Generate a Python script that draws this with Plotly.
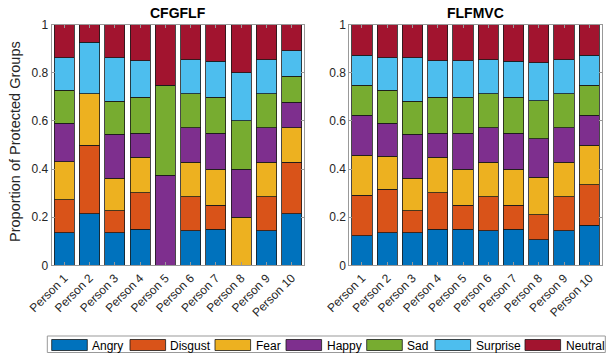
import plotly.graph_objects as go

persons = [f"Person {i}" for i in range(1, 11)]
emotions = ["Angry", "Disgust", "Fear", "Happy", "Sad", "Surprise", "Neutral"]
colors = ["#0072BD", "#D95319", "#EDB120", "#7E2F8E", "#77AC30", "#4DBEEE", "#A2142F"]
titles = ["CFGFLF", "FLFMVC"]

# CFGFLF proportions
cf_angry    = [0.135, 0.215, 0.135, 0.149, 0.000, 0.143, 0.149, 0.000, 0.143, 0.214]
cf_disgust  = [0.137, 0.284, 0.091, 0.152, 0.000, 0.141, 0.101, 0.000, 0.141, 0.214]
cf_fear     = [0.158, 0.215, 0.135, 0.149, 0.000, 0.144, 0.149, 0.200, 0.144, 0.143]
cf_happy    = [0.160, 0.000, 0.184, 0.099, 0.375, 0.143, 0.150, 0.200, 0.143, 0.106]
cf_sad      = [0.137, 0.000, 0.136, 0.149, 0.373, 0.142, 0.149, 0.200, 0.142, 0.108]
cf_surprise = [0.135, 0.214, 0.181, 0.152, 0.000, 0.142, 0.150, 0.200, 0.142, 0.107]
cf_neutral  = [0.138, 0.072, 0.138, 0.150, 0.252, 0.145, 0.152, 0.200, 0.145, 0.108]

# FLFMVC proportions
fl_angry    = [0.123, 0.135, 0.135, 0.149, 0.149, 0.143, 0.149, 0.106, 0.143, 0.166]
fl_disgust  = [0.169, 0.182, 0.091, 0.152, 0.101, 0.141, 0.101, 0.104, 0.141, 0.168]
fl_fear     = [0.165, 0.137, 0.135, 0.149, 0.149, 0.144, 0.149, 0.157, 0.144, 0.165]
fl_happy    = [0.166, 0.136, 0.184, 0.099, 0.150, 0.143, 0.150, 0.159, 0.143, 0.124]
fl_sad      = [0.125, 0.137, 0.136, 0.149, 0.149, 0.142, 0.149, 0.158, 0.142, 0.125]
fl_surprise = [0.126, 0.135, 0.181, 0.152, 0.152, 0.142, 0.150, 0.157, 0.142, 0.126]
fl_neutral  = [0.126, 0.138, 0.138, 0.150, 0.150, 0.145, 0.152, 0.159, 0.145, 0.126]

cf_data = [cf_angry, cf_disgust, cf_fear, cf_happy, cf_sad, cf_surprise, cf_neutral]
fl_data = [fl_angry, fl_disgust, fl_fear, fl_happy, fl_sad, fl_surprise, fl_neutral]

yticks = [0, 0.2, 0.4, 0.6, 0.8, 1]
ytick_labels = ["0", "0.2", "0.4", "0.6", "0.8", "1"]

W, H = 607, 353
FONT = "Liberation Sans, Arial, sans-serif"

fig = go.Figure()
for panel, data in enumerate([cf_data, fl_data]):
    xa = "x" if panel == 0 else "x2"
    ya = "y" if panel == 0 else "y2"
    for name, col, vals in zip(emotions, colors, data):
        fig.add_trace(go.Bar(
            x=persons, y=vals, name=name, xaxis=xa, yaxis=ya,
            marker=dict(color=col, line=dict(color="#1a1a1a", width=0.8)),
            width=0.8, showlegend=False,
        ))

def px_x(p):
    return p / W

def px_y(p):
    return 1 - p / H

axis_common = dict(
    showline=True, linecolor="#999999", linewidth=1, mirror="ticks",
    ticks="inside", ticklen=3, tickcolor="#999999",
    showgrid=False, zeroline=False,
    tickfont=dict(family=FONT, size=12, color="#262626"),
)

x_dom1 = [px_x(51.7), px_x(304.3)]
x_dom2 = [px_x(349.3), px_x(602)]
y_dom = [px_y(265.3), px_y(24.7)]

fig.update_layout(
    width=W, height=H,
    margin=dict(l=0, r=0, t=0, b=0),
    paper_bgcolor="white", plot_bgcolor="white",
    barmode="stack", bargap=0.2,
    showlegend=False,
    font=dict(family=FONT, size=12, color="#262626"),
    xaxis=dict(domain=x_dom1, anchor="y", range=[-0.5, 9.5], tickangle=-45, automargin=False, **axis_common),
    yaxis=dict(domain=y_dom, anchor="x", range=[0, 1], tickvals=yticks, ticktext=ytick_labels, automargin=False, **axis_common),
    xaxis2=dict(domain=x_dom2, anchor="y2", range=[-0.5, 9.5], tickangle=-45, automargin=False, **axis_common),
    yaxis2=dict(domain=y_dom, anchor="x2", range=[0, 1], tickvals=yticks, ticktext=ytick_labels, automargin=False, **axis_common),
)

annotations = []
# Titles
for dom, t in zip([x_dom1, x_dom2], titles):
    annotations.append(dict(
        x=(dom[0] + dom[1]) / 2, y=px_y(13.5), xref="paper", yref="paper",
        text=f"<b>{t}</b>", showarrow=False, xanchor="center", yanchor="middle",
        font=dict(family=FONT, size=14, color="black"),
    ))
# Y axis title
annotations.append(dict(
    x=px_x(15), y=px_y(142), xref="paper", yref="paper",
    text="Proportion of Protected Groups", showarrow=False, textangle=-90,
    xanchor="center", yanchor="middle",
    font=dict(family=FONT, size=14.5, color="#262626"),
))

# Custom legend (MATLAB style)
shapes = [dict(type="rect", xref="paper", yref="paper",
               x0=px_x(47.3), x1=px_x(605.3), y0=px_y(352.5), y1=px_y(336),
               line=dict(color="#999999", width=1), fillcolor="white", layer="above")]
patch_x = [51.7, 130, 215, 286, 366.7, 435, 525]
for name, col, x0 in zip(emotions, colors, patch_x):
    shapes.append(dict(type="rect", xref="paper", yref="paper",
                       x0=px_x(x0), x1=px_x(x0 + 35.6), y0=px_y(350.5), y1=px_y(339.5),
                       line=dict(color="#1a1a1a", width=0.8), fillcolor=col, layer="above"))
    annotations.append(dict(
        x=px_x(x0 + 38.5), y=px_y(345.5), xref="paper", yref="paper",
        text=name, showarrow=False, xanchor="left", yanchor="middle",
        font=dict(family=FONT, size=12, color="black"),
    ))

fig.update_layout(annotations=annotations, shapes=shapes)
fig.write_html(
    "out.html",
    config={"displayModeBar": False},
    post_script="document.body.style.margin='0';document.body.style.overflow='hidden';",
)
